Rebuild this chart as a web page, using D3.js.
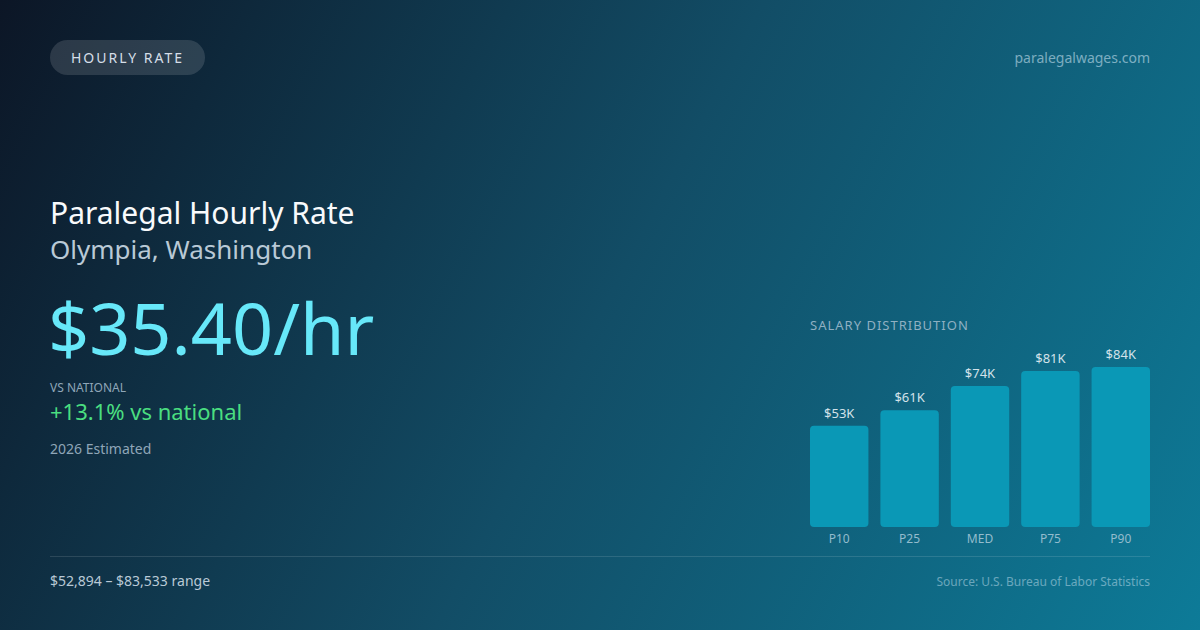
<!DOCTYPE html>
<html>
<head>
<meta charset="utf-8">
<script src="https://cdn.jsdelivr.net/npm/d3@7"></script>
<style>
  html, body { margin: 0; padding: 0; background: #0f172a; }
  svg { display: block; font-family: "Noto Sans", "Open Sans", sans-serif; }
</style>
</head>
<body>
<div id="card"></div>
<script>
// salary percentiles (annual, USD)
const percentiles = ["P10", "P25", "MED", "P75", "P90"];
const salaries = [52894, 61000, 73600, 81400, 83533];

const badgeText = "HOURLY RATE";
const siteName = "paralegalwages.com";
const title = "Paralegal Hourly Rate";
const place = "Olympia, Washington";
const hourly = "$35.40/hr";
const vsLabel = "VS NATIONAL";
const vsText = "+13.1% vs national";
const yearNote = "2026 Estimated";
const rangeText = "$52,894 – $83,533 range";
const sourceText = "Source: U.S. Bureau of Labor Statistics";

const width = 1200, height = 630;

const svg = d3.select("#card").append("svg")
    .attr("width", width)
    .attr("height", height);

const defs = svg.append("defs");
const grad = defs.append("linearGradient")
    .attr("id", "bg")
    .attr("gradientUnits", "userSpaceOnUse")
    .attr("x1", 0).attr("y1", 0)
    .attr("x2", width).attr("y2", height);
grad.append("stop").attr("offset", "0%").attr("stop-color", "#0c1626");
grad.append("stop").attr("offset", "50%").attr("stop-color", "#124d66");
grad.append("stop").attr("offset", "100%").attr("stop-color", "#0d7b98");

svg.append("rect").attr("width", width).attr("height", height).attr("fill", "url(#bg)");

// badge
svg.append("rect")
    .attr("x", 50).attr("y", 40)
    .attr("width", 155).attr("height", 35)
    .attr("rx", 17.5)
    .attr("fill", "rgba(255,255,255,0.13)");
svg.append("text")
    .attr("x", 127.5).attr("y", 62.5)
    .attr("text-anchor", "middle")
    .attr("font-size", 14)
    .attr("letter-spacing", 2)
    .attr("fill", "#d5dee8")
    .text(badgeText);

svg.append("text")
    .attr("x", 1150).attr("y", 63)
    .attr("text-anchor", "end")
    .attr("font-size", 14)
    .attr("fill", "rgba(200,225,240,0.6)")
    .text(siteName);

// headline block
svg.append("text").attr("x", 50).attr("y", 224)
    .attr("font-size", 30).attr("fill", "#f8fafc").text(title);
svg.append("text").attr("x", 50).attr("y", 259)
    .attr("font-size", 26).attr("fill", "#b9c9d6").text(place);
svg.append("text").attr("x", 48).attr("y", 355)
    .attr("font-size", 72).attr("fill", "#67e8f9").text(hourly);
svg.append("text").attr("x", 50).attr("y", 392)
    .attr("font-size", 12).attr("fill", "#8fa6b8").text(vsLabel);
svg.append("text").attr("x", 50).attr("y", 420)
    .attr("font-size", 22).attr("fill", "#4ade80").text(vsText);
svg.append("text").attr("x", 50).attr("y", 454)
    .attr("font-size", 14).attr("fill", "#8fa6b8").text(yearNote);

// salary distribution chart
const chart = { left: 810, right: 1150, top: 367, bottom: 527 };

svg.append("text")
    .attr("x", chart.left).attr("y", 330)
    .attr("font-size", 13)
    .attr("letter-spacing", 1)
    .attr("fill", "#8fb0c2")
    .text("SALARY DISTRIBUTION");

const x = d3.scaleBand()
    .domain(percentiles)
    .range([chart.left, chart.right])
    .paddingInner(0.17)
    .paddingOuter(0);

const y = d3.scaleLinear()
    .domain([0, d3.max(salaries)])
    .range([chart.bottom, chart.top]);

const data = percentiles.map((p, i) => ({ p, v: salaries[i] }));

svg.append("g").selectAll("rect").data(data).enter().append("rect")
    .attr("x", d => x(d.p))
    .attr("y", d => y(d.v))
    .attr("width", x.bandwidth())
    .attr("height", d => chart.bottom - y(d.v))
    .attr("rx", 4)
    .attr("fill", "#0a98b6");

svg.append("g").selectAll("text").data(data).enter().append("text")
    .attr("x", d => x(d.p) + x.bandwidth() / 2)
    .attr("y", d => y(d.v) - 8)
    .attr("text-anchor", "middle")
    .attr("font-size", 13)
    .attr("fill", "#d3e2ea")
    .text(d => "$" + Math.round(d.v / 1000) + "K");

svg.append("g").selectAll("text").data(data).enter().append("text")
    .attr("x", d => x(d.p) + x.bandwidth() / 2)
    .attr("y", 543)
    .attr("text-anchor", "middle")
    .attr("font-size", 12)
    .attr("fill", "#93bccd")
    .text(d => d.p);

// footer
svg.append("line")
    .attr("x1", 50).attr("x2", 1150)
    .attr("y1", 556.5).attr("y2", 556.5)
    .attr("stroke", "rgba(255,255,255,0.12)");

svg.append("text").attr("x", 50).attr("y", 586)
    .attr("font-size", 14).attr("fill", "#b9c9d6").text(rangeText);
svg.append("text").attr("x", 1150).attr("y", 586)
    .attr("text-anchor", "end")
    .attr("font-size", 12).attr("fill", "rgba(200,225,240,0.5)").text(sourceText);
</script>
</body>
</html>
